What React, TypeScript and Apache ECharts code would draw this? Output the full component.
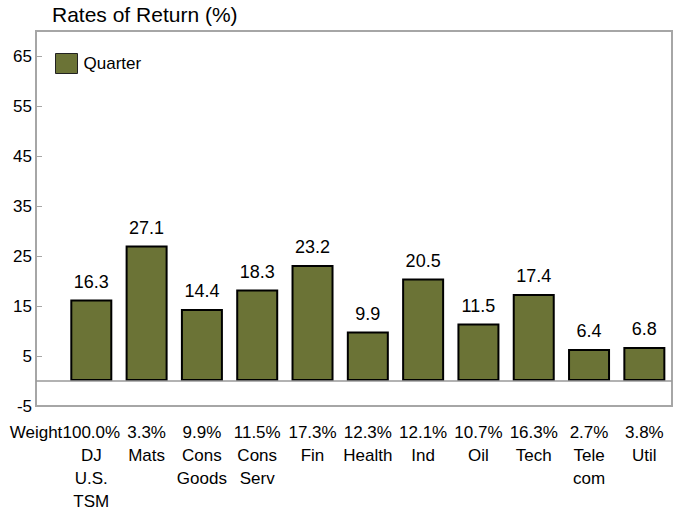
import React, { useEffect, useRef } from "react";
import * as echarts from "echarts";

const categories = ["DJ\nU.S.\nTSM", "Mats", "Cons\nGoods", "Cons\nServ", "Fin", "Health", "Ind", "Oil", "Tech", "Tele\ncom", "Util"];
const weights = ["100.0%", "3.3%", "9.9%", "11.5%", "17.3%", "12.3%", "12.1%", "10.7%", "16.3%", "2.7%", "3.8%"];
const quarterValues = [16.3, 27.1, 14.4, 18.3, 23.2, 9.9, 20.5, 11.5, 17.4, 6.4, 6.8];
const yTicks = [-5, 5, 15, 25, 35, 45, 55, 65];
const weightLabel = "Weight";
const seriesName = "Quarter";
const titleText = "Rates of Return (%)";

const FONT = "'Liberation Sans', Arial, sans-serif";

export default function App() {
  const ref = useRef<HTMLDivElement>(null);
  useEffect(() => {
    if (!ref.current) return;
    const chart = echarts.init(ref.current, undefined, { renderer: "svg" });
    chart.setOption({
      animation: false,
      backgroundColor: "#ffffff",
      textStyle: { fontFamily: FONT },
      title: {
        text: titleText,
        left: 52,
        top: 4,
        padding: 0,
        textStyle: { fontSize: 21, fontWeight: "normal", color: "#000", fontFamily: FONT },
      },
      legend: {
        left: 55,
        top: 53,
        padding: 0,
        itemWidth: 22,
        itemHeight: 20,
        itemGap: 10,
        icon: "rect",
        itemStyle: { borderWidth: 1, borderColor: "#222" },
        textStyle: { fontSize: 17, color: "#000", fontFamily: FONT, padding: [0, 0, 0, 1] },
        data: [seriesName],
      },
      grid: {
        left: 36,
        top: 31,
        bottom: 108,
        right: -2,
        show: true,
        borderColor: "#a6a6a6",
        borderWidth: 2,
        backgroundColor: "transparent",
        containLabel: false,
      },
      xAxis: {
        type: "value",
        min: -1,
        max: 10.5,
        interval: 1,
        axisLine: { show: false, onZero: false },
        axisTick: { show: false },
        splitLine: { show: false },
        axisLabel: {
          fontSize: 17,
          color: "#000",
          fontFamily: FONT,
          lineHeight: 23,
          margin: 15,
          verticalAlign: "top",
          formatter: (v: number) => {
            if (v === -1) return weightLabel;
            if (Number.isInteger(v) && v >= 0 && v < categories.length) {
              return weights[v] + "\n" + categories[v];
            }
            return "";
          },
        },
      },
      yAxis: {
        type: "value",
        min: -5,
        max: 70,
        interval: 10,
        axisLine: { show: false, onZero: false },
        axisTick: { show: true, inside: true, length: 6, lineStyle: { color: "#a6a6a6", width: 1 } },
        splitLine: { show: false },
        axisLabel: {
          fontSize: 17,
          color: "#000",
          fontFamily: FONT,
          margin: 4,
          formatter: (v: number) => (yTicks.includes(v) ? String(v) : ""),
        },
      },
      series: [
        {
          name: seriesName,
          type: "bar",
          barWidth: 42,
          data: quarterValues.map((v, i) => [i, v]),
          itemStyle: { color: "#6b7336", borderColor: "#000", borderWidth: 2 },
          label: {
            show: true,
            position: "top",
            distance: 9,
            fontSize: 18,
            color: "#000",
            fontFamily: FONT,
            formatter: (p: any) => p.value[1].toFixed(1),
          },
          markLine: {
            silent: true,
            symbol: "none",
            label: { show: false },
            lineStyle: { color: "#999999", width: 1.5, type: "solid" },
            data: [{ yAxis: 0 }],
          },
        },
      ],
    });
    return () => chart.dispose();
  }, []);
  return <div ref={ref} style={{ position: "fixed", left: 0, top: 0, width: 675, height: 514 }} />;
}
